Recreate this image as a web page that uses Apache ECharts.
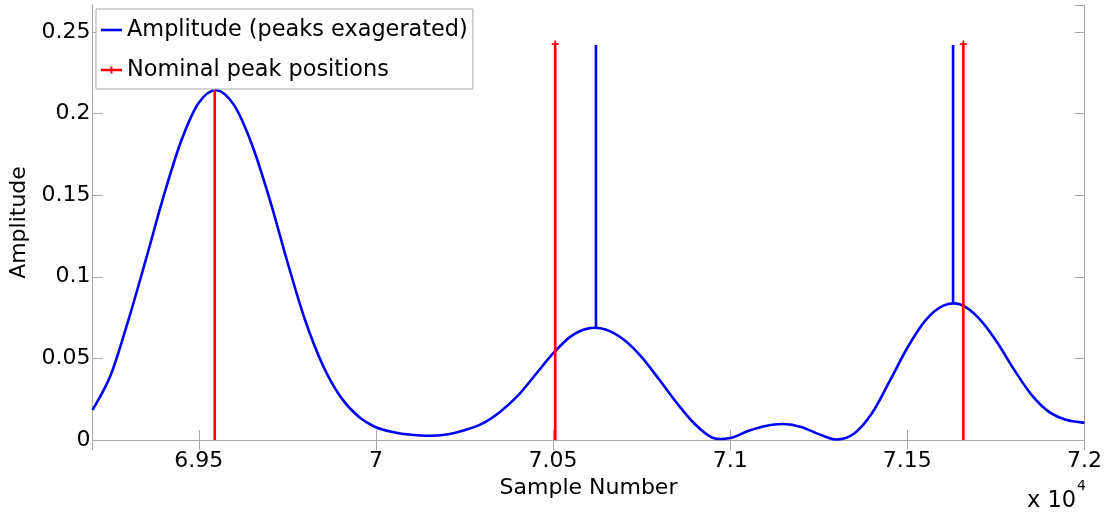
<!DOCTYPE html>
<html>
<head>
<meta charset="utf-8">
<title>Amplitude vs Sample Number</title>
<script src="https://cdn.jsdelivr.net/npm/echarts@6/dist/echarts.min.js"></script>
<style>
  html, body { margin: 0; padding: 0; background: #ffffff; }
  #chart { width: 1105px; height: 515px; }
</style>
</head>
<body>
<div id="chart"></div>
<script>
// Amplitude envelope, one reading every 50 samples
const sampleX = [
  69200, 69250, 69300, 69350, 69400, 69450, 69500, 69550, 69600, 69650,
  69700, 69750, 69800, 69850, 69900, 69950, 70000, 70050, 70100, 70150,
  70200, 70250, 70300, 70350, 70400, 70450, 70500, 70550, 70600, 70650,
  70700, 70750, 70800, 70850, 70900, 70950, 71000, 71050, 71100, 71150,
  71200, 71250, 71300, 71350, 71400, 71450, 71500, 71550, 71600, 71650,
  71700, 71750, 71800, 71850, 71900, 71950, 72000
];
const amplitude = [
  0.0184, 0.0390, 0.0725, 0.1100, 0.1488, 0.1830, 0.2066, 0.2143, 0.2050, 0.1810,
  0.1475, 0.1092, 0.0735, 0.0458, 0.0265, 0.0145, 0.0078, 0.0048, 0.0032, 0.0026,
  0.0034, 0.0060, 0.0100, 0.0172, 0.0270, 0.0400, 0.0530, 0.0635, 0.0684, 0.0676,
  0.0614, 0.0508, 0.0369, 0.0225, 0.0098, 0.0014, 0.0012, 0.0055, 0.0086, 0.0098,
  0.0080, 0.0036, 0.0003, 0.0040, 0.0164, 0.0360, 0.0565, 0.0730, 0.0822, 0.0830,
  0.0750, 0.0610, 0.0435, 0.0278, 0.0172, 0.0122, 0.0106
];

// Exaggerated peaks: position, base (envelope value) and top
const spikeX    = [70621, 71629];
const spikeBase = [0.0686, 0.0834];
const spikeTop  = [0.2420, 0.2420];

// Nominal peak positions and stem heights
const nominalX      = [69545, 70506, 71658];
const nominalHeight = [0.2145, 0.2426, 0.2426];
const nominalMarker = [false, true, true];

// Axis ticks
const xTicks = [69500, 70000, 70500, 71000, 71500, 72000];
const yTicks = [0, 0.05, 0.1, 0.15, 0.2, 0.25];

const X_MIN = 69200, X_MAX = 72000;
const Y_MIN = 0, Y_MAX = 0.2665;

const BLUE = '#0000ff';
const RED = '#ff0000';
const FRAME = '#a8a8a8';
const FONT = 'DejaVu Sans';
const LINE_W = 2.6;

const plusPath = 'path://M0,3h8v2h-8z M3,0h2v8h-2z';

const AMP_NAME = 'Amplitude (peaks exagerated)';
const NOM_NAME = 'Nominal peak positions';
const series = [];

// Envelope: a smooth cubic (Catmull-Rom) path through the readings,
// positioned with the grid's own coordinate system.
series.push({
  name: AMP_NAME,
  type: 'custom',
  coordinateSystem: 'cartesian2d',
  data: sampleX.map((x, i) => [x, amplitude[i]]),
  encode: { x: 0, y: 1 },
  itemStyle: { color: BLUE },
  z: 3,
  renderItem: function (params, api) {
    if (params.dataIndex !== 0) return;
    const pts = sampleX.map((x, i) => api.coord([x, amplitude[i]]));
    const n = pts.length;
    let d = 'M' + pts[0][0] + ',' + pts[0][1];
    for (let i = 0; i < n - 1; i++) {
      const p0 = pts[i > 0 ? i - 1 : i];
      const p1 = pts[i];
      const p2 = pts[i + 1];
      const p3 = pts[i + 2 < n ? i + 2 : i + 1];
      const c1x = p1[0] + (p2[0] - p0[0]) / 6;
      const c1y = p1[1] + (p2[1] - p0[1]) / 6;
      const c2x = p2[0] - (p3[0] - p1[0]) / 6;
      const c2y = p2[1] - (p3[1] - p1[1]) / 6;
      d += 'C' + c1x + ',' + c1y + ' ' + c2x + ',' + c2y + ' ' + p2[0] + ',' + p2[1];
    }
    return {
      type: 'path',
      shape: { pathData: d },
      style: { stroke: BLUE, lineWidth: LINE_W, fill: 'none', lineJoin: 'round' },
      silent: true
    };
  }
});

spikeX.forEach((x, i) => {
  series.push({
    name: AMP_NAME,
    type: 'line',
    data: [[x, spikeBase[i]], [x, spikeTop[i]]],
    symbol: 'none',
    lineStyle: { color: BLUE, width: LINE_W },
    itemStyle: { color: BLUE },
    z: 3
  });
});

nominalX.forEach((x, i) => {
  series.push({
    name: NOM_NAME,
    type: 'line',
    data: [
      { value: [x, 0], symbol: 'none' },
      { value: [x, nominalHeight[i]], symbol: nominalMarker[i] ? plusPath : 'none', symbolSize: 7 }
    ],
    showSymbol: true,
    lineStyle: { color: RED, width: LINE_W },
    itemStyle: { color: RED },
    z: 4
  });
});

const xLabel = v => xTicks.indexOf(v) >= 0 ? String(parseFloat((v / 1e4).toFixed(4))) : '';
const yLabel = v => yTicks.some(t => Math.abs(t - v) < 1e-9) ? String(parseFloat(v.toFixed(4))) : '';

const chart = echarts.init(document.getElementById('chart'), null, { renderer: 'canvas' });
chart.setOption({
  animation: false,
  backgroundColor: '#ffffff',
  textStyle: { fontFamily: FONT },
  grid: { left: 92.5, right: 19, top: 5, bottom: 75, containLabel: false },
  legend: {
    left: 96,
    top: 9,
    orient: 'vertical',
    backgroundColor: '#ffffff',
    borderColor: FRAME,
    borderWidth: 1,
    padding: [9, 5, 7, 5],
    itemGap: 16,
    itemWidth: 21,
    itemHeight: 14,
    data: [
      { name: AMP_NAME, icon: 'path://M0,0h21v2.6h-21z', itemStyle: { color: BLUE } },
      { name: NOM_NAME, icon: 'path://M0,2.2h21v2.6h-21z M9.5,0h2v7h-2z', itemStyle: { color: RED } }
    ],
    textStyle: { fontFamily: FONT, fontSize: 22.4, color: '#000', lineHeight: 24 },
    z: 10
  },
  xAxis: [{
    type: 'value',
    min: X_MIN,
    max: X_MAX,
    minInterval: 500,
    maxInterval: 500,
    position: 'bottom',
    name: 'Sample Number',
    nameLocation: 'middle',
    nameGap: 35,
    nameTextStyle: { fontFamily: FONT, fontSize: 22, color: '#000' },
    axisLine: { show: true, lineStyle: { color: FRAME, width: 1 } },
    axisTick: { show: true, inside: true, length: 10, lineStyle: { color: FRAME } },
    axisLabel: { formatter: xLabel, fontFamily: FONT, fontSize: 22, color: '#000', margin: 10 },
    splitLine: { show: false }
  }, {
    type: 'value',
    min: X_MIN,
    max: X_MAX,
    minInterval: 500,
    maxInterval: 500,
    position: 'top',
    axisLine: { show: true, lineStyle: { color: FRAME, width: 1 } },
    axisTick: { show: true, inside: true, length: 10, lineStyle: { color: FRAME } },
    axisLabel: { show: false },
    splitLine: { show: false }
  }],
  yAxis: [{
    type: 'value',
    min: Y_MIN,
    max: Y_MAX,
    interval: 0.05,
    position: 'left',
    name: 'Amplitude',
    nameLocation: 'middle',
    nameGap: 62,
    nameRotate: 90,
    nameTextStyle: { fontFamily: FONT, fontSize: 22, color: '#000' },
    axisLine: { show: true, lineStyle: { color: FRAME, width: 1 } },
    axisTick: { show: true, inside: true, length: 10, lineStyle: { color: FRAME } },
    axisLabel: { formatter: yLabel, fontFamily: FONT, fontSize: 22, color: '#000', margin: 2, showMaxLabel: false },
    splitLine: { show: false }
  }, {
    type: 'value',
    min: Y_MIN,
    max: Y_MAX,
    interval: 0.05,
    position: 'right',
    axisLine: { show: true, lineStyle: { color: FRAME, width: 1 } },
    axisTick: { show: true, inside: true, length: 10, lineStyle: { color: FRAME } },
    axisLabel: { show: false },
    splitLine: { show: false }
  }],
  graphic: [
    {
      type: 'text',
      left: 1027,
      top: 490,
      style: { text: 'x 10', font: '22.5px "DejaVu Sans"', fill: '#000' }
    },
    {
      type: 'text',
      left: 1077,
      top: 479,
      style: { text: '4', font: '14px "DejaVu Sans"', fill: '#000' }
    }
  ],
  series: series
});
</script>
</body>
</html>
